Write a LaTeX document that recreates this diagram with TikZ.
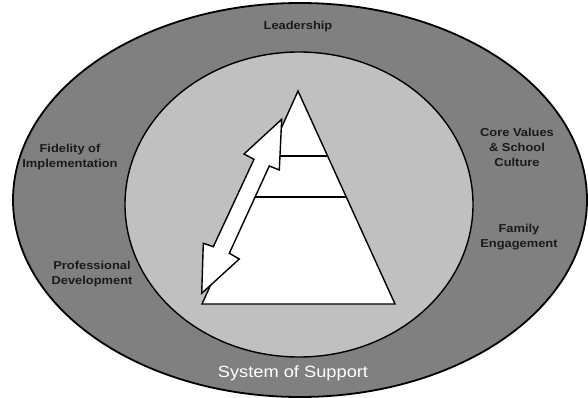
\documentclass[tikz,border=0pt]{standalone}
\usepackage{fontspec}
\newfontfamily\labfont[FakeStretch=1.12]{Liberation Sans}
\definecolor{ringgray}{HTML}{808080}
\definecolor{innergray}{HTML}{C0C0C0}
\definecolor{labtext}{HTML}{1A1A1A}
\begin{document}
\begin{tikzpicture}[x=1pt,y=-1pt,
  lab/.style={font=\labfont\bfseries\fontsize{11.5}{15}\selectfont, text=labtext, align=center, inner sep=0pt},
  shapeline/.style={draw=black, line width=1.4pt, line join=miter}]
\useasboundingbox (0,0) rectangle (588,398);
% outer ring
\fill[ringgray, draw=black, line width=1.8pt] (300,200) ellipse [x radius=287, y radius=197];
% inner ellipse
\fill[innergray, draw=black, line width=1.4pt] (299,204.5) ellipse [x radius=174, y radius=152.5];
% pyramid
\coordinate (apex) at (298,91);
\coordinate (bl) at (202,304);
\coordinate (br) at (395,304);
\filldraw[fill=white, shapeline] (apex) -- (br) -- (bl) -- cycle;
\coordinate (l1a) at (268.7,156);
\coordinate (l1b) at (327.6,156);
\coordinate (l2a) at (250.2,197);
\coordinate (l2b) at (346.3,197);
\draw[line width=1.2pt] (l1a) -- (l1b);
\draw[line width=1.2pt] (l2a) -- (l2b);
% double block arrow
\coordinate (t1) at (281.7,119.3);
\coordinate (br1) at (279.3,170);
\coordinate (sr1) at (269.3,166);
\coordinate (sr2) at (229.3,253.3);
\coordinate (br2) at (239.3,259);
\coordinate (t2) at (201.7,293.3);
\coordinate (bl2) at (203.3,243.3);
\coordinate (sl2) at (213.3,246.7);
\coordinate (sl1) at (254,159.3);
\coordinate (bl1) at (244,154);
\filldraw[fill=white, shapeline] (t1) -- (br1) -- (sr1) -- (sr2) -- (br2) -- (t2) -- (bl2) -- (sl2) -- (sl1) -- (bl1) -- cycle;
% labels
\node[lab] (lead) at (298,27) {Leadership};
\node[lab] (fid) at (70,157) {Fidelity of\\Implementation};
\node[lab] (prof) at (92,274) {Professional\\Development};
\node[lab] (core) at (517,147) {Core Values\\\& School\\Culture};
\node[lab] (fam) at (519,237) {Family\\Engagement};
\node[font=\labfont\fontsize{16.3}{18}\selectfont, text=white, inner sep=0pt] (sys) at (293,373) {System of Support};
\end{tikzpicture}
\end{document}
